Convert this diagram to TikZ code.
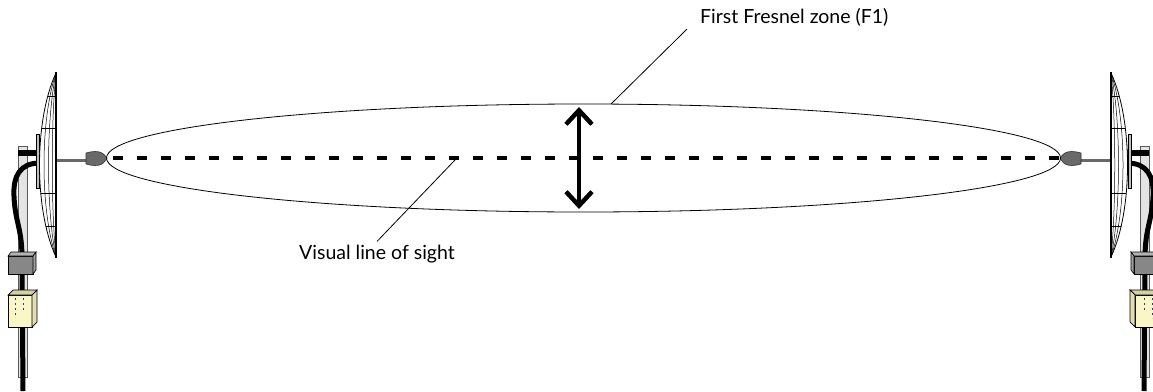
\documentclass[tikz,border=0pt]{standalone}
\usepackage{fontspec}
\setmainfont{Lato}
\definecolor{polegray}{RGB}{228,228,228}
\definecolor{horngray}{RGB}{105,105,105}
\definecolor{clampgray}{RGB}{135,135,135}
\definecolor{poeyellow}{RGB}{250,246,198}
\definecolor{poemark}{RGB}{40,60,160}
\usetikzlibrary{arrows.meta}

\tikzset{
	zone/.style={line width=0.8pt},
	sightline/.style={line width=4pt,dash pattern=on 10pt off 14pt,dash phase=18pt},
	gauge/.style={line width=4.5pt,{Straight Barb[length=14pt,width=26pt]}-{Straight Barb[length=14pt,width=26pt]}},
	leader/.style={line width=0.8pt},
	caption/.style={font=\fontsize{19.5}{22}\selectfont,inner sep=3pt},
	cable/.style={line width=5pt},
	antenna/.pic={
		% pole
		\filldraw[fill=polegray,draw=gray!70!black,line width=0.6pt] (18,146) rectangle (27,377);
		% cable from the feed down along the pole
		\draw[cable] (40,163) .. controls (20,163) and (13,176) .. (14,196)
			.. controls (15,222) and (22,228) .. (22,258) -- (23,391);
		% bracket and mounting plate
		\fill (18,150) rectangle (40,156);
		\filldraw[fill=gray!50,line width=0.5pt] (36,134) rectangle (39,188);
		% feed arm and feed horn
		\draw[line width=3pt,color=horngray] (40,160) -- (88,160);
		\filldraw[fill=horngray,draw=black!80,line width=0.6pt]
			(86,153) .. controls (92,151) and (99,151) .. (102,153)
			.. controls (105,155) and (106,157) .. (107,158)
			.. controls (106,159) and (105,162) .. (102,164)
			.. controls (99,166) and (92,166) .. (86,164) -- cycle;
		% grid dish
		\begin{scope}
			\clip (56,73) .. controls (34,120) and (34,210) .. (56,257) -- cycle;
			\fill[white] (30,70) rectangle (58,260);
			\foreach \c in {40,46,51}
				\draw[line width=0.5pt] (56,73) .. controls (\c,120) and (\c,210) .. (56,257);
			\foreach \y in {96,128,193,226}
				\draw[line width=0.5pt] (30,\y) -- (58,\y);
		\end{scope}
		\draw[line width=0.8pt] (56,73) .. controls (34,120) and (34,210) .. (56,257);
		\draw[line width=1.8pt] (56,72) -- (56,258);
		% pole clamp
		\filldraw[fill=clampgray,line width=0.6pt] (8,256) rectangle (33,274);
		\filldraw[fill=gray!60,line width=0.6pt] (8,256) -- (11,252) -- (36,252) -- (33,256) -- cycle;
		\filldraw[fill=gray!75,line width=0.6pt] (33,256) -- (36,252) -- (36,270) -- (33,274) -- cycle;
		% PoE injector
		\filldraw[fill=poeyellow,line width=0.7pt] (8,295) rectangle (32,327);
		\filldraw[fill=poeyellow!85!black,line width=0.7pt] (8,295) -- (13,290) -- (37,290) -- (32,295) -- cycle;
		\filldraw[fill=poeyellow!90!black,line width=0.7pt] (32,295) -- (37,290) -- (37,322) -- (32,327) -- cycle;
		\draw[poemark,line width=0.8pt,dash pattern=on 2pt off 3pt] (15,298) -- (15,318);
		\draw[poemark,line width=0.8pt,dash pattern=on 2pt off 3pt] (23,298) -- (23,310);
	}
}

\begin{document}
\begin{tikzpicture}[x=1pt,y=-1pt]
	\useasboundingbox (0,0) rectangle (1153,391);

	\pic at (0,0) {antenna};
	\pic[xscale=-1] at (1167,0) {antenna};

	\coordinate (lfeed) at (107,158);
	\coordinate (rfeed) at (1060,158);
	\coordinate (zonetop) at (579,107);
	\coordinate (zonebot) at (579,209);
	\coordinate (fztip) at (611,104);
	\coordinate (lostip) at (455,160);

	\draw[zone] (583.5,158) ellipse [x radius=477, y radius=54];
	\draw[sightline] (lfeed) -- (rfeed);
	\draw[gauge] (zonetop) -- (zonebot);

	\node[caption,anchor=base west] (fz) at (697,23) {First Fresnel zone (F1)};
	\node[caption,anchor=base] (vis) at (377,259) {Visual line of sight};

	\draw[leader] ([xshift=-10pt]fz.south west) -- (fztip);
	\draw[leader] (vis.north) -- (lostip);
\end{tikzpicture}
\end{document}
